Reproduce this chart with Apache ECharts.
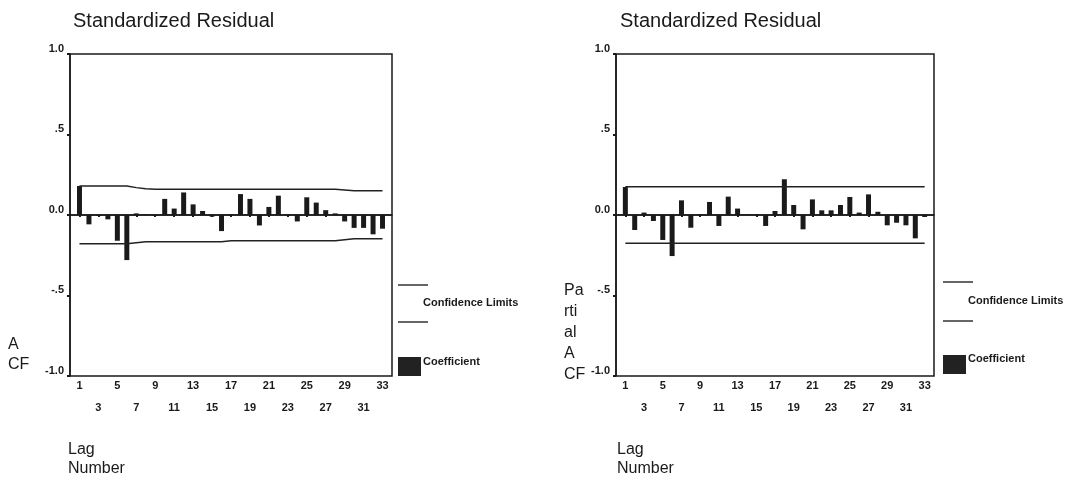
<!DOCTYPE html>
<html>
<head>
<meta charset="utf-8">
<script src="https://cdn.jsdelivr.net/npm/echarts@6/dist/echarts.min.js"></script>
<style>
  html, body { margin: 0; padding: 0; background: #fff; }
  #main { width: 1081px; height: 484px; }
</style>
</head>
<body>
<div id="main"></div>
<script>
// lag numbers
var lags = [1,2,3,4,5,6,7,8,9,10,11,12,13,14,15,16,17,18,19,20,21,22,23,24,25,26,27,28,29,30,31,32,33];
var tickLags = [1,3,5,7,9,11,13,15,17,19,21,23,25,27,29,31,33];

// ACF of the standardized residual (left)
var acf = [0.18,-0.058,-0.006,-0.027,-0.16,-0.28,0.01,0.004,-0.005,0.10,0.04,0.14,0.066,0.025,-0.01,-0.10,0.004,
           0.13,0.10,-0.065,0.05,0.12,0.005,-0.04,0.11,0.077,0.03,0.01,-0.04,-0.08,-0.08,-0.12,-0.085];
var acfUpper = [0.18,0.18,0.18,0.18,0.18,0.18,0.17,0.163,0.16,0.16,0.16,0.16,0.16,0.16,0.16,0.16,0.16,
                0.16,0.16,0.16,0.16,0.16,0.16,0.16,0.16,0.16,0.16,0.16,0.155,0.15,0.15,0.15,0.15];
var acfLower = [-0.178,-0.178,-0.178,-0.178,-0.178,-0.178,-0.172,-0.166,-0.166,-0.166,-0.166,-0.166,-0.166,-0.166,-0.166,-0.166,-0.16,
                -0.16,-0.16,-0.16,-0.16,-0.16,-0.16,-0.16,-0.16,-0.16,-0.16,-0.16,-0.153,-0.148,-0.148,-0.148,-0.148];

// PACF of the standardized residual (right)
var pacf = [0.174,-0.093,0.015,-0.037,-0.155,-0.255,0.091,-0.079,0.005,0.081,-0.068,0.114,0.04,0.003,0.005,-0.068,0.025,
            0.222,0.062,-0.089,0.097,0.029,0.029,0.062,0.112,0.015,0.128,0.02,-0.064,-0.048,-0.064,-0.145,-0.012];
var pacfUpper = [0.175,0.175,0.175,0.175,0.175,0.175,0.175,0.175,0.175,0.175,0.175,0.175,0.175,0.175,0.175,0.175,0.175,
                 0.175,0.175,0.175,0.175,0.175,0.175,0.175,0.175,0.175,0.175,0.175,0.175,0.175,0.175,0.175,0.175];
var pacfLower = [-0.176,-0.176,-0.176,-0.176,-0.176,-0.176,-0.176,-0.176,-0.176,-0.176,-0.176,-0.176,-0.176,-0.176,-0.176,-0.176,-0.176,
                 -0.176,-0.176,-0.176,-0.176,-0.176,-0.176,-0.176,-0.176,-0.176,-0.176,-0.176,-0.176,-0.176,-0.176,-0.176,-0.176];

var yLabels = { '1': '1.0', '0.5': '.5', '0': '0.0', '-0.5': '-.5', '-1': '-1.0' };
var FONT = 'Liberation Sans, Arial, sans-serif';
var INK = '#1a1a1a';

function pairs(ys) {
  return lags.map(function (l, i) { return [l, ys[i]]; });
}

function xAxisFor(idx) {
  return {
    type: 'value', gridIndex: idx, min: 0, max: 34,
    axisLine: { show: true, lineStyle: { color: INK, width: 1.5 } },
    axisTick: { show: true, customValues: tickLags, length: 2, lineStyle: { color: INK, width: 2 } },
    splitLine: { show: false },
    axisLabel: {
      customValues: tickLags,
      margin: -1,
      lineHeight: 22,
      fontSize: 11, fontWeight: 'bold', fontFamily: FONT, color: INK,
      formatter: function (v) {
        // odd lags alternate between two rows
        return ((v - 1) / 2) % 2 === 0 ? String(v) : '\n' + v;
      }
    }
  };
}

function yAxisFor(idx) {
  return {
    type: 'value', gridIndex: idx, min: -1, max: 1, interval: 0.5,
    axisLine: { show: true, lineStyle: { color: INK, width: 1.5 } },
    axisTick: { show: true, length: 3, lineStyle: { color: INK, width: 2 } },
    splitLine: { show: false },
    axisLabel: {
      margin: 6, verticalAlign: 'bottom',
      fontSize: 11, fontWeight: 'bold', fontFamily: FONT, color: INK,
      formatter: function (v) { return yLabels[String(v)]; }
    }
  };
}

function barSeries(idx, vals) {
  return {
    type: 'bar', xAxisIndex: idx, yAxisIndex: idx,
    data: pairs(vals), barWidth: 5,
    itemStyle: { color: INK },
    silent: true,
    markLine: {
      silent: true, symbol: 'none', label: { show: false },
      lineStyle: { color: INK, width: 1.5, type: 'solid' },
      data: [{ yAxis: 0 }]
    }
  };
}

function limitSeries(idx, vals) {
  return {
    type: 'line', xAxisIndex: idx, yAxisIndex: idx,
    data: pairs(vals), showSymbol: false, silent: true,
    lineStyle: { color: '#222', width: 1.5 }
  };
}

function legendGraphics(x, y1, y2, ty, ry, cy) {
  return [
    { type: 'line', shape: { x1: x, y1: y1, x2: x + 30, y2: y1 }, style: { stroke: '#333', lineWidth: 1.5 } },
    { type: 'line', shape: { x1: x, y1: y2, x2: x + 30, y2: y2 }, style: { stroke: '#333', lineWidth: 1.5 } },
    { type: 'text', x: x + 25, y: ty, style: { text: 'Confidence Limits', font: 'bold 11px ' + FONT, fill: INK, verticalAlign: 'middle' } },
    { type: 'rect', shape: { x: x, y: ry, width: 23, height: 19 }, style: { fill: '#222' } },
    { type: 'text', x: x + 25, y: cy, style: { text: 'Coefficient', font: 'bold 11px ' + FONT, fill: INK, verticalAlign: 'middle' } }
  ];
}

var myChart = echarts.init(document.getElementById('main'));

var option = {
  backgroundColor: '#fff',
  animation: false,
  title: [
    { text: 'Standardized Residual', left: 68, top: 6, textStyle: { fontSize: 20, fontWeight: 'normal', fontFamily: FONT, color: INK } },
    { text: 'Standardized Residual', left: 615, top: 6, textStyle: { fontSize: 20, fontWeight: 'normal', fontFamily: FONT, color: INK } }
  ],
  grid: [
    { left: 70, top: 54, width: 322, height: 322, show: true, borderColor: INK, borderWidth: 1.5, backgroundColor: 'transparent' },
    { left: 616, top: 54, width: 318, height: 322, show: true, borderColor: INK, borderWidth: 1.5, backgroundColor: 'transparent' }
  ],
  xAxis: [xAxisFor(0), xAxisFor(1)],
  yAxis: [yAxisFor(0), yAxisFor(1)],
  series: [
    barSeries(0, acf),
    limitSeries(0, acfUpper),
    limitSeries(0, acfLower),
    barSeries(1, pacf),
    limitSeries(1, pacfUpper),
    limitSeries(1, pacfLower)
  ],
  graphic: [
    { type: 'text', left: 8, top: 335, style: { text: 'A\nCF', font: '16px ' + FONT, fill: INK, lineHeight: 20 } },
    { type: 'text', left: 564, top: 280, style: { text: 'Pa\nrti\nal\nA\nCF', font: '16px ' + FONT, fill: INK, lineHeight: 21 } },
    { type: 'text', left: 68, top: 440, style: { text: 'Lag\nNumber', font: '16px ' + FONT, fill: INK, lineHeight: 19 } },
    { type: 'text', left: 617, top: 440, style: { text: 'Lag\nNumber', font: '16px ' + FONT, fill: INK, lineHeight: 19 } }
  ].concat(legendGraphics(398, 285, 322, 303, 357, 362))
   .concat(legendGraphics(943, 282, 321, 301, 355, 359))
};

myChart.setOption(option);
</script>
</body>
</html>
